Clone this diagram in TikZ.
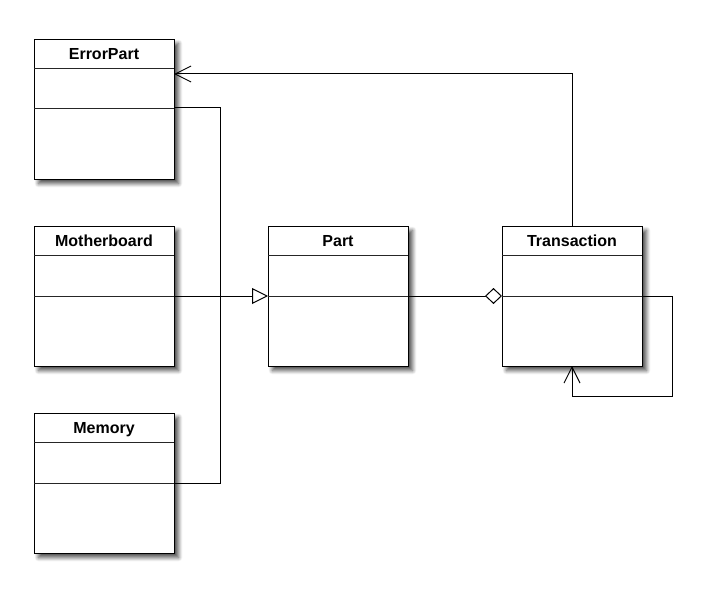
\documentclass[tikz,border=0pt]{standalone}
\usepackage{fontspec}
\setmainfont{Liberation Sans}
\usetikzlibrary{arrows.meta,shadows.blur}
\begin{document}
\begin{tikzpicture}[x=1pt,y=-1pt,
  cls/.style={draw=black, line width=1pt, fill=white, anchor=north west,
    minimum width=140pt, minimum height=140pt, inner sep=0pt,
    blur shadow={shadow xshift=4pt, shadow yshift=-4pt, shadow blur steps=8, shadow opacity=70, shadow blur radius=4pt}},
  hdr/.style={font=\fontsize{16}{19}\selectfont\bfseries, inner sep=0pt, anchor=base},
  sep/.style={line width=0.9pt, draw=black!85},
  conn/.style={line width=1pt, draw=black},
  opentip/.style={-{Straight Barb[length=16pt,width=16pt,line width=1pt]}},
  gen/.style={-{Triangle[open,length=16pt,width=16pt,line width=1pt,fill=white]}},
  agg/.style={{Diamond[open,length=17pt,width=16pt,line width=1pt,fill=white]}-}
]
\useasboundingbox (0,0) rectangle (713,602);

% classes
\node[cls] (err) at (34,39) {};
\node[cls] (mb) at (34,226) {};
\node[cls] (mem) at (34,413) {};
\node[cls] (part) at (268,226) {};
\node[cls] (tr) at (502,226) {};

% headers
\node[hdr] (errh) at (104,59.5) {ErrorPart};
\node[hdr] (mbh) at (104,246.5) {Motherboard};
\node[hdr] (memh) at (104,433.5) {Memory};
\node[hdr] (parth) at (338,246.5) {Part};
\node[hdr] (trh) at (572,246.5) {Transaction};

% header lines and dividers
\foreach \n/\x/\y/\d in {err/34/39/108, mb/34/226/296, mem/34/413/483, part/268/226/296, tr/502/226/296}{
  \draw[sep] (\x,\y+29) -- (\x+140,\y+29);
  \draw[sep] (\x,\d) -- (\x+140,\d);
}

% connection points
\coordinate (errR) at (174,108);
\coordinate (mbR) at (174,296);
\coordinate (memR) at (174,483);
\coordinate (j) at (220,296);
\coordinate (partL) at (268,296);
\coordinate (partR) at (408,296);
\coordinate (trL) at (502,296);
\coordinate (trT) at (572,226);
\coordinate (errIn) at (174,74);
\coordinate (trR) at (642,296);
\coordinate (trB) at (572,366);
\coordinate (loopA) at (672,296);
\coordinate (loopB) at (672,396);
\coordinate (loopC) at (572,396);

% generalisations
\draw[conn] (errR) -| (j);
\draw[conn] (memR) -| (j);
\draw[conn,gen] (mbR) -- (partL);

% aggregation
\draw[conn,agg] (trL) -- (partR);

% association to ErrorPart
\draw[conn,opentip] (trT) |- (errIn);

% self loop
\draw[conn,opentip] (trR) -- (loopA) -- (loopB) -- (loopC) -- (trB);
\end{tikzpicture}
\end{document}
